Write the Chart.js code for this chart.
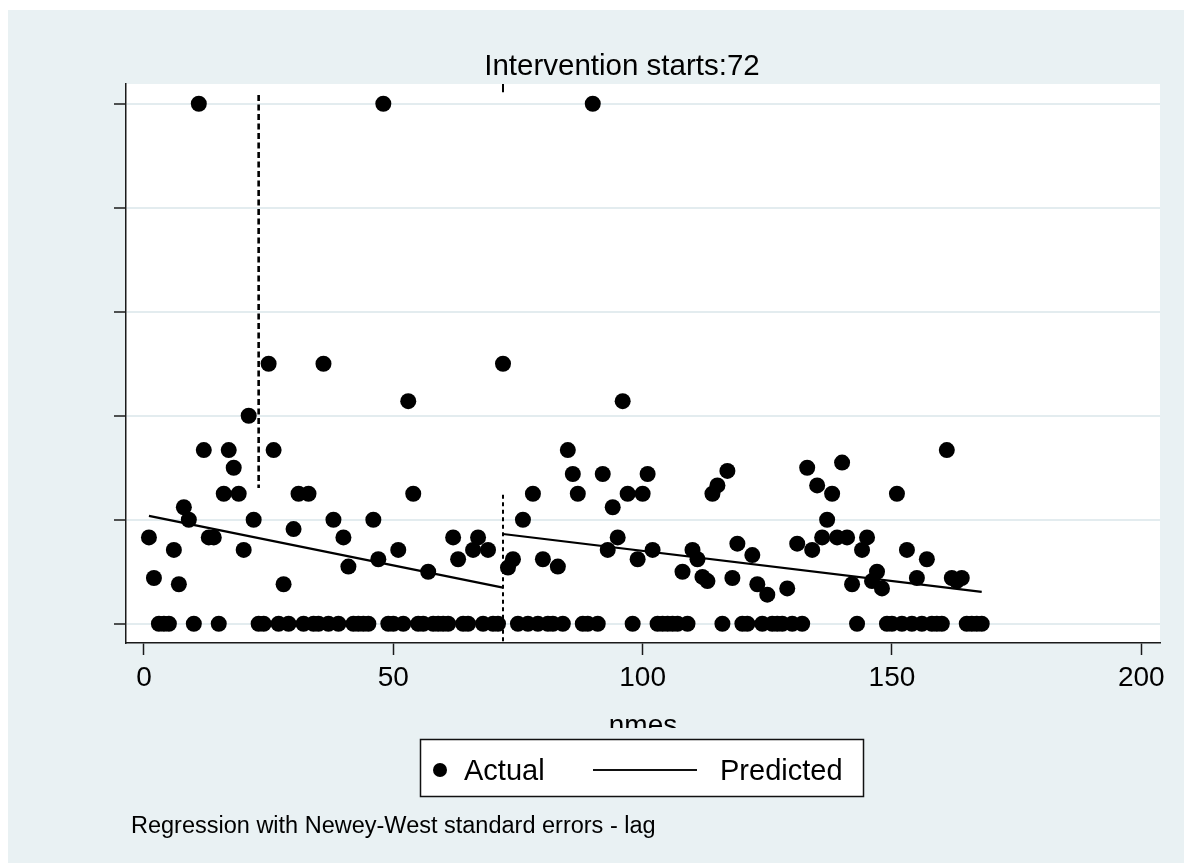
<!DOCTYPE html>
<html>
<head>
<meta charset="utf-8">
<title>Intervention starts:72</title>
<script src="https://cdn.jsdelivr.net/npm/chart.js@4.4.1/dist/chart.umd.min.js"></script>
<style>
  html, body { margin: 0; padding: 0; background: #fff; }
  #wrap { width: 1184px; height: 863px; }
</style>
</head>
<body>
<div id="wrap"><canvas id="myChart" width="1184" height="863"></canvas></div>
<script>
// observed outcome per month (nmes = 1..168)
const actual = [
  0.83, 0.44, 0, 0, 0, 0.71, 0.38, 1.12, 1.0, 0,
  5, 1.67, 0.83, 0.83, 0, 1.25, 1.67, 1.5, 1.25, 0.71,
  2.0, 1.0, 0, 0, 2.5, 1.67, 0, 0.38, 0, 0.91,
  1.25, 0, 1.25, 0, 0, 2.5, 0, 1.0, 0, 0.83,
  0.55, 0, 0, 0, 0, 1.0, 0.62, 5, 0, 0,
  0.71, 0, 2.14, 1.25, 0, 0, 0.5, 0, 0, 0,
  0, 0.83, 0.62, 0, 0, 0.71, 0.83, 0, 0.71, 0,
  0, 2.5, 0.54, 0.62, 0, 1.0, 0, 1.25, 0, 0.62,
  0, 0, 0.55, 0, 1.67, 1.44, 1.25, 0, 0, 5,
  0, 1.44, 0.71, 1.12, 0.83, 2.14, 1.25, 0, 0.62, 1.25,
  1.44, 0.71, 0, 0, 0, 0, 0, 0.5, 0, 0.71,
  0.62, 0.45, 0.41, 1.25, 1.33, 0, 1.47, 0.44, 0.77, 0,
  0, 0.66, 0.38, 0, 0.28, 0, 0, 0, 0.34, 0,
  0.77, 0, 1.5, 0.71, 1.33, 0.83, 1.0, 1.25, 0.83, 1.55,
  0.83, 0.38, 0, 0.71, 0.83, 0.41, 0.5, 0.34, 0, 0,
  1.25, 0, 0.71, 0, 0.44, 0, 0.62, 0, 0, 0,
  1.67, 0.44, 0.41, 0.44, 0, 0, 0, 0
];
const nmes = actual.map((_, i) => i + 1);

// fitted segments before / after the intervention
const preX = [1, 72];
const preY = [1.037, 0.347];
const postX = [72, 168];
const postY = [0.863, 0.306];

// dashed reference lines
const lagLineX = 23;
const lagLineY = [5.085, 1.306];
const startX = 72;
const startTopY = [5.19, 5.11];
const startLowY = [1.24, -0.19];

const xTicks = [0, 50, 100, 150, 200];
const yTicks = [0, 1, 2, 3, 4, 5];

const bg = '#E9F1F3';
const font = '"Liberation Sans", Arial, sans-serif';

function pts(xs, ys) {
  return xs.map((x, i) => ({ x: x, y: ys[i] }));
}

const stataFrame = {
  id: 'stataFrame',
  beforeDraw(chart) {
    const { ctx, chartArea: a } = chart;
    ctx.save();
    ctx.fillStyle = '#fff';
    ctx.fillRect(0, 0, chart.width, chart.height);
    ctx.fillStyle = bg;
    ctx.fillRect(8, 10, chart.width - 8, chart.height - 10);
    ctx.fillStyle = '#fff';
    ctx.fillRect(a.left, a.top, a.right - a.left, a.bottom - a.top);
    ctx.restore();
  },
  afterDraw(chart) {
    const ctx = chart.ctx;
    ctx.save();
    ctx.fillStyle = '#000';
    ctx.textBaseline = 'alphabetic';

    // title
    ctx.font = '29.5px ' + font;
    ctx.textAlign = 'center';
    ctx.fillText('Intervention starts:72', 622, 75);

    // x axis title, cut off by the legend area
    ctx.save();
    ctx.beginPath();
    ctx.rect(0, 0, chart.width, 728);
    ctx.clip();
    ctx.font = '28px ' + font;
    ctx.fillText('nmes', 643, 734);
    ctx.restore();

    // legend
    ctx.fillStyle = '#fff';
    ctx.fillRect(420, 739, 443, 57);
    ctx.strokeStyle = '#111';
    ctx.lineWidth = 1.5;
    ctx.strokeRect(420.5, 739.5, 443, 57);
    ctx.fillStyle = '#000';
    ctx.beginPath();
    ctx.arc(440, 770, 7, 0, Math.PI * 2);
    ctx.fill();
    ctx.beginPath();
    ctx.lineWidth = 2;
    ctx.moveTo(593, 770);
    ctx.lineTo(697, 770);
    ctx.stroke();
    ctx.font = '29px ' + font;
    ctx.textAlign = 'left';
    ctx.fillText('Actual', 464, 780);
    ctx.fillText('Predicted', 720, 780);

    // note
    ctx.font = '23.5px ' + font;
    ctx.fillText('Regression with Newey-West standard errors - lag', 131, 833);
    ctx.restore();
  }
};

const ctx = document.getElementById('myChart').getContext('2d');

const myChart = new Chart(ctx, {
  type: 'scatter',
  data: {
    datasets: [
      {
        label: 'Actual',
        data: pts(nmes, actual),
        pointRadius: 8,
        pointBorderWidth: 0,
        pointBackgroundColor: '#000',
        order: 2
      },
      {
        label: 'Predicted',
        type: 'line',
        data: pts(preX, preY),
        borderColor: '#000',
        borderWidth: 2.2,
        pointRadius: 0,
        order: 1
      },
      {
        label: 'Predicted post',
        type: 'line',
        data: pts(postX, postY),
        borderColor: '#000',
        borderWidth: 2.2,
        pointRadius: 0,
        order: 1
      },
      {
        label: 'lag',
        type: 'line',
        data: pts([lagLineX, lagLineX], lagLineY),
        borderColor: '#000',
        borderWidth: 2.6,
        borderDash: [6, 3.5],
        pointRadius: 0,
        order: 0
      },
      {
        label: 'start top',
        type: 'line',
        data: pts([startX, startX], startTopY),
        borderColor: '#000',
        borderWidth: 2,
        pointRadius: 0,
        order: 0
      },
      {
        label: 'start',
        type: 'line',
        data: pts([startX, startX], startLowY),
        borderColor: '#000',
        borderWidth: 2,
        borderDash: [4, 3.5],
        pointRadius: 0,
        order: 0
      }
    ]
  },
  options: {
    responsive: false,
    animation: false,
    events: [],
    layout: { padding: { left: 113, top: 84, right: 24, bottom: 134 } },
    plugins: {
      legend: { display: false },
      tooltip: { enabled: false },
      title: { display: false }
    },
    scales: {
      x: {
        type: 'linear',
        min: -3.6,
        max: 203.75,
        afterBuildTicks: s => { s.ticks = xTicks.map(v => ({ value: v })); },
        afterFit: s => { s.height = 86; s.paddingLeft = 0; s.paddingRight = 0; },
        border: { display: true, color: '#1a1a1a', width: 1.5 },
        grid: {
          drawOnChartArea: false,
          drawTicks: true,
          tickLength: 12,
          tickColor: '#1a1a1a',
          tickWidth: 1.5
        },
        ticks: {
          color: '#000',
          padding: 6,
          maxRotation: 0,
          font: { family: font, size: 28 }
        }
      },
      y: {
        type: 'linear',
        min: -0.185,
        max: 5.19,
        afterBuildTicks: s => { s.ticks = yTicks.map(v => ({ value: v })); },
        afterFit: s => { s.width = 13; s.paddingTop = 0; s.paddingBottom = 0; },
        border: { display: true, color: '#1a1a1a', width: 1.5 },
        grid: {
          color: '#E3ECEF',
          lineWidth: 2,
          drawTicks: true,
          tickLength: 12,
          tickColor: '#1a1a1a',
          tickWidth: 1.5
        },
        ticks: { display: false }
      }
    }
  },
  plugins: [stataFrame]
});
</script>
</body>
</html>
